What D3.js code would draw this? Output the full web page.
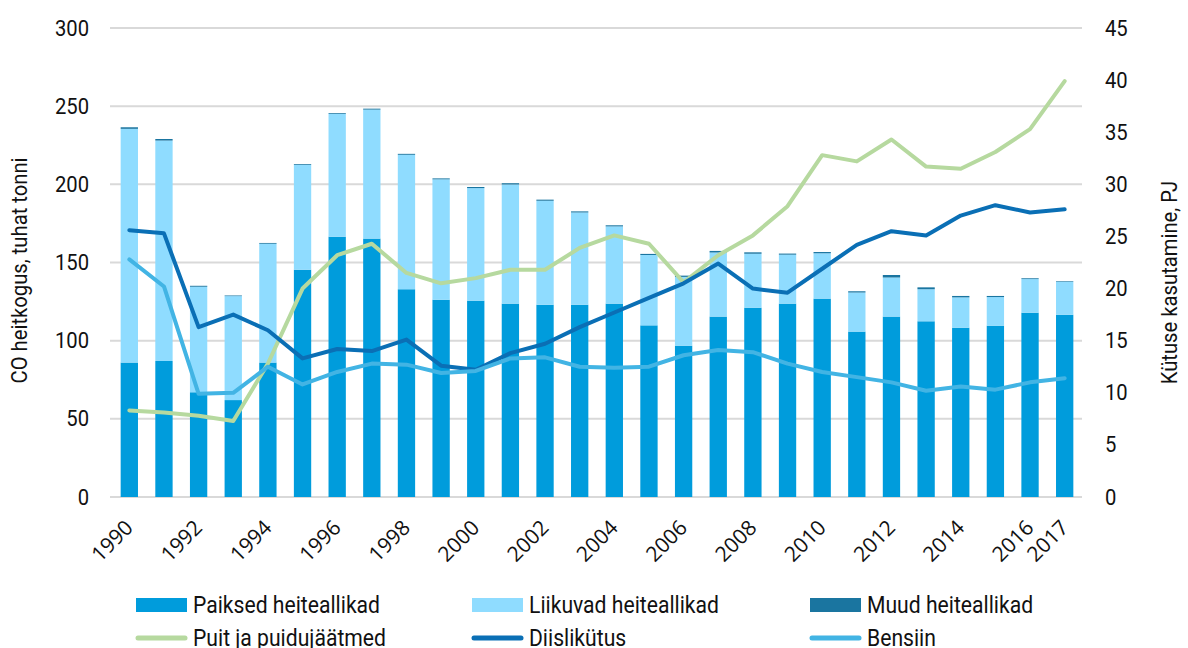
<!DOCTYPE html>
<html>
<head>
<meta charset="utf-8">
<script src="https://cdn.jsdelivr.net/npm/d3@7"></script>
<style>
  body { margin: 0; background: #fff; overflow: hidden; }
  svg text { font-family: Roboto, "Liberation Sans", sans-serif; fill: #111; }
</style>
</head>
<body>
<svg id="chart" width="1188" height="648"></svg>
<script>
// data
let years = d3.range(1990, 2018);
let paiksed   = [86, 87, 67, 62, 86, 145.4, 166.5, 165.3, 132.9, 126.2, 125.6, 123.7, 123, 123, 123.7, 109.8, 96.8, 115.4, 121.1, 123.7, 126.9, 105.8, 115.4, 112.4, 108.3, 109.6, 117.9, 116.6];
let liikuvad  = [149.5, 141, 67.5, 66.5, 76, 67, 78.5, 82.5, 86, 77, 72, 76.2, 66.5, 59, 49.4, 45, 44, 41, 34.5, 31.3, 29, 25, 25, 20.5, 19.4, 18.3, 21.5, 21];
let muud      = [1, 1, 0.6, 0.4, 0.5, 0.5, 0.5, 0.6, 0.6, 0.6, 0.7, 0.8, 0.7, 0.7, 0.7, 0.7, 0.8, 1, 0.9, 0.7, 0.8, 0.8, 1.6, 1.2, 0.9, 0.7, 0.5, 0.4];
let puit      = [8.3, 8.1, 7.8, 7.3, 12.8, 20.0, 23.2, 24.3, 21.5, 20.5, 21.0, 21.8, 21.8, 23.9, 25.1, 24.3, 20.6, 23.2, 25.1, 27.9, 32.8, 32.2, 34.3, 31.7, 31.5, 33.1, 35.3, 39.9];
let diisel    = [25.6, 25.3, 16.3, 17.5, 16.0, 13.3, 14.2, 14.0, 15.1, 12.6, 12.2, 13.8, 14.7, 16.3, 17.7, 19.1, 20.5, 22.4, 20.0, 19.6, 21.9, 24.2, 25.5, 25.1, 27.0, 28.0, 27.3, 27.6];
let bensiin   = [22.8, 20.2, 9.9, 10.0, 12.5, 10.8, 12.0, 12.8, 12.7, 11.9, 12.1, 13.3, 13.4, 12.5, 12.4, 12.5, 13.6, 14.1, 13.9, 12.8, 12.0, 11.5, 11.0, 10.2, 10.6, 10.3, 11.0, 11.4];
let leftTicks  = [0, 50, 100, 150, 200, 250, 300];
let rightTicks = [0, 5, 10, 15, 20, 25, 30, 35, 40, 45];
let xTickYears = [1990, 1992, 1994, 1996, 1998, 2000, 2002, 2004, 2006, 2008, 2010, 2012, 2014, 2016, 2017];

let barSeries = [
  {name: "Paiksed heiteallikad", values: paiksed, color: "#009cdc"},
  {name: "Liikuvad heiteallikad", values: liikuvad, color: "#8fdcff"},
  {name: "Muud heiteallikad", values: muud, color: "#1a75a0"}
];
let lineSeries = [
  {name: "Puit ja puidujäätmed", values: puit, color: "#b6d99f"},
  {name: "Diislikütus", values: diisel, color: "#0a6fb5"},
  {name: "Bensiin", values: bensiin, color: "#42b4e4"}
];

const margin = {top: 28, right: 106, bottom: 151, left: 112};
const squeeze = "scale(0.92,1)"; // fake a condensed face
let svg = d3.select("#chart");
let width = +svg.attr("width");
let height = +svg.attr("height");
let plotWidth = width - margin.left - margin.right;
let plotHeight = height - margin.top - margin.bottom;

let xScale = d3.scaleBand().domain(years).range([0, plotWidth]).paddingInner(0.5).paddingOuter(0.25);
let yLeft = d3.scaleLinear().domain([0, 300]).range([plotHeight, 0]);
let yRight = d3.scaleLinear().domain([0, 45]).range([plotHeight, 0]);

let plot = svg.append("g")
  .attr("transform", "translate(" + margin.left + "," + margin.top + ")");

// gridlines
plot.selectAll("line.grid")
  .data(leftTicks)
  .enter()
  .append("line")
  .attr("class", "grid")
  .attr("x1", -2)
  .attr("x2", plotWidth)
  .attr("y1", d => yLeft(d))
  .attr("y2", d => yLeft(d))
  .attr("stroke", "#d9d9d9")
  .attr("stroke-width", 2);

// stacked bars
let stackData = years.map((y, i) => ({year: y, s0: paiksed[i], s1: liikuvad[i], s2: muud[i]}));
let stack = d3.stack().keys(["s0", "s1", "s2"])(stackData);

plot.selectAll("g.layer")
  .data(stack)
  .enter()
  .append("g")
  .attr("class", "layer")
  .attr("fill", (d, i) => barSeries[i].color)
  .selectAll("rect")
  .data(d => d)
  .enter()
  .append("rect")
  .attr("x", d => xScale(d.data.year))
  .attr("width", xScale.bandwidth())
  .attr("y", d => yLeft(d[1]))
  .attr("height", d => yLeft(d[0]) - yLeft(d[1]));

// lines on right axis
let line = d3.line()
  .x((d, i) => xScale(years[i]) + xScale.bandwidth() / 2)
  .y(d => yRight(d));

plot.selectAll("path.series")
  .data(lineSeries)
  .enter()
  .append("path")
  .attr("class", "series")
  .attr("d", d => line(d.values))
  .attr("fill", "none")
  .attr("stroke", d => d.color)
  .attr("stroke-width", 4)
  .attr("stroke-linejoin", "round")
  .attr("stroke-linecap", "round");

// left axis labels
let leftAxis = plot.append("g")
  .call(d3.axisLeft(yLeft).tickValues(leftTicks).tickSize(0).tickPadding(25));
leftAxis.select(".domain").remove();
leftAxis.selectAll("text").attr("font-size", "22px").attr("transform", squeeze).style("font-family", "Roboto");

// right axis labels
let rightAxis = plot.append("g")
  .attr("transform", "translate(" + plotWidth + ",0)")
  .call(d3.axisRight(yRight).tickValues(rightTicks).tickSize(0).tickPadding(25));
rightAxis.select(".domain").remove();
rightAxis.selectAll("text").attr("font-size", "22px").attr("transform", squeeze).style("font-family", "Roboto");

// x labels, rotated
plot.selectAll("text.xlab")
  .data(xTickYears)
  .enter()
  .append("text")
  .attr("class", "xlab")
  .attr("font-size", "21px")
  .style("font-family", "'Open Sans', sans-serif")
  .attr("text-anchor", "end")
  .attr("transform", d => "translate(" + (xScale(d) + xScale.bandwidth() / 2 + 5) + "," + (plotHeight + 32) + ") rotate(-45)")
  .text(d => d);

// axis titles
svg.append("text")
  .attr("transform", "translate(27," + (margin.top + plotHeight / 2 + 8) + ") rotate(-90) " + squeeze)
  .attr("text-anchor", "middle")
  .attr("font-size", "22px")
  .text("CO heitkogus, tuhat tonni");

svg.append("text")
  .attr("transform", "translate(1177," + (margin.top + plotHeight / 2 + 20) + ") rotate(-90) " + squeeze)
  .attr("text-anchor", "middle")
  .attr("font-size", "22px")
  .text("Kütuse kasutamine, PJ");

// legend
let legendCols = [136, 472, 810];
let legend = svg.append("g");

barSeries.forEach((s, i) => {
  let g = legend.append("g").attr("transform", "translate(" + legendCols[i] + ",605)");
  g.append("rect").attr("x", 0).attr("y", -7).attr("width", 51).attr("height", 14).attr("fill", s.color);
  g.append("text").attr("transform", "translate(57,8) " + squeeze).attr("font-size", "23px").text(s.name);
});
lineSeries.forEach((s, i) => {
  let g = legend.append("g").attr("transform", "translate(" + legendCols[i] + ",638)");
  g.append("line").attr("x1", 2).attr("x2", 49).attr("y1", 0).attr("y2", 0)
    .attr("stroke", s.color).attr("stroke-width", 5).attr("stroke-linecap", "round");
  g.append("text").attr("transform", "translate(57,8) " + squeeze).attr("font-size", "23px").text(s.name);
});
</script>
</body>
</html>
